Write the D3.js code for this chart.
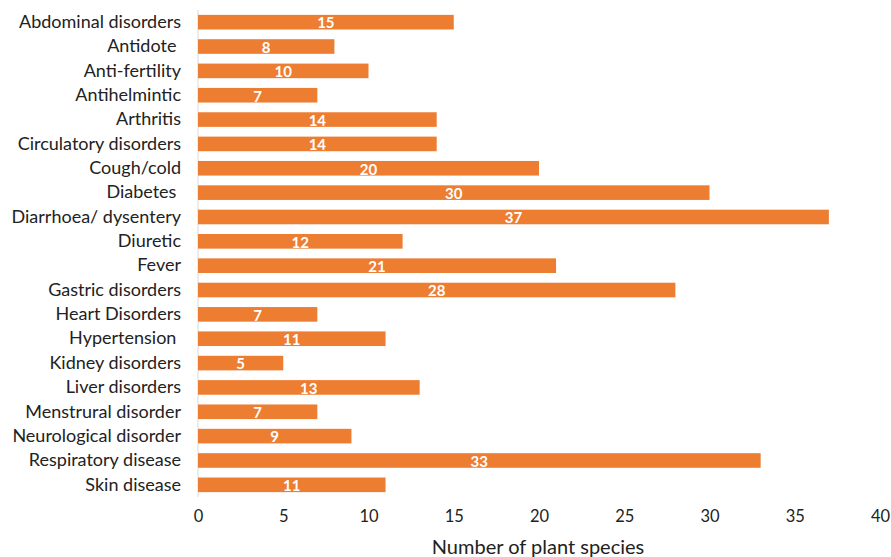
<!DOCTYPE html>
<html>
<head>
<meta charset="utf-8">
<script src="https://cdn.jsdelivr.net/npm/d3@7"></script>
<style>
  html, body { margin: 0; padding: 0; background: #fff; }
  svg text { white-space: pre; }
</style>
</head>
<body>
<svg id="chart" width="891" height="557"></svg>
<script>
const categories = [
  "Abdominal disorders", "Antidote ", "Anti-fertility", "Antihelmintic", "Arthritis",
  "Circulatory disorders", "Cough/cold", "Diabetes ", "Diarrhoea/ dysentery", "Diuretic",
  "Fever", "Gastric disorders", "Heart Disorders", "Hypertension ", "Kidney disorders",
  "Liver disorders", "Menstrural disorder", "Neurological disorder", "Respiratory disease", "Skin disease"
];
const values = [15, 8, 10, 7, 14, 14, 20, 30, 37, 12, 21, 28, 7, 11, 5, 13, 7, 9, 33, 11];
const xTicks = [0, 5, 10, 15, 20, 25, 30, 35, 40];
const xTitle = "Number of plant species";

const FONT = "Lato, 'Open Sans', sans-serif";
const TEXT = "#222";
const svg = d3.select("#chart");

const x = d3.scaleLinear().domain([0, 40]).range([198, 880]);
const y = d3.scaleBand().domain(categories).range([10, 497]).paddingInner(0.4).paddingOuter(0.2);

// vertical axis line
svg.append("line")
  .attr("x1", x(0)).attr("x2", x(0))
  .attr("y1", 10).attr("y2", 497)
  .attr("stroke", "#d9d9d9").attr("stroke-width", 1);

// bars
svg.selectAll("rect.bar").data(values).join("rect")
  .attr("class", "bar")
  .attr("x", x(0))
  .attr("y", (d, i) => y(categories[i]))
  .attr("width", d => x(d) - x(0))
  .attr("height", y.bandwidth())
  .attr("fill", "#ED7D31");

// value labels
svg.selectAll("text.val").data(values).join("text")
  .attr("class", "val")
  .attr("x", d => (x(d) + x(0)) / 2)
  .attr("y", (d, i) => y(categories[i]) + y.bandwidth() / 2)
  .attr("dy", "0.42em")
  .attr("text-anchor", "middle")
  .attr("fill", "#fff")
  .attr("font-family", FONT)
  .attr("font-weight", "bold")
  .attr("font-size", 15)
  .text(d => d);

// category labels (y axis)
const yAxis = d3.axisLeft(y).tickSize(0).tickPadding(0);
const gy = svg.append("g").attr("transform", `translate(${181},0)`).call(yAxis);
gy.select(".domain").remove();
gy.selectAll("text")
  .attr("font-family", FONT)
  .attr("font-size", 18)
  .attr("fill", TEXT);

// x axis
const xAxis = d3.axisBottom(x).tickValues(xTicks).tickSize(0).tickPadding(0);
const gx = svg.append("g").attr("transform", `translate(0,${522})`).call(xAxis);
gx.select(".domain").remove();
gx.selectAll("text")
  .attr("y", 0).attr("dy", 0)
  .attr("font-family", FONT)
  .attr("font-size", 16.5)
  .attr("fill", TEXT);

// x title
svg.append("text")
  .attr("x", 538)
  .attr("y", 554)
  .attr("text-anchor", "middle")
  .attr("font-family", FONT)
  .attr("font-size", 20)
  .attr("fill", TEXT)
  .text(xTitle);
</script>
</body>
</html>
